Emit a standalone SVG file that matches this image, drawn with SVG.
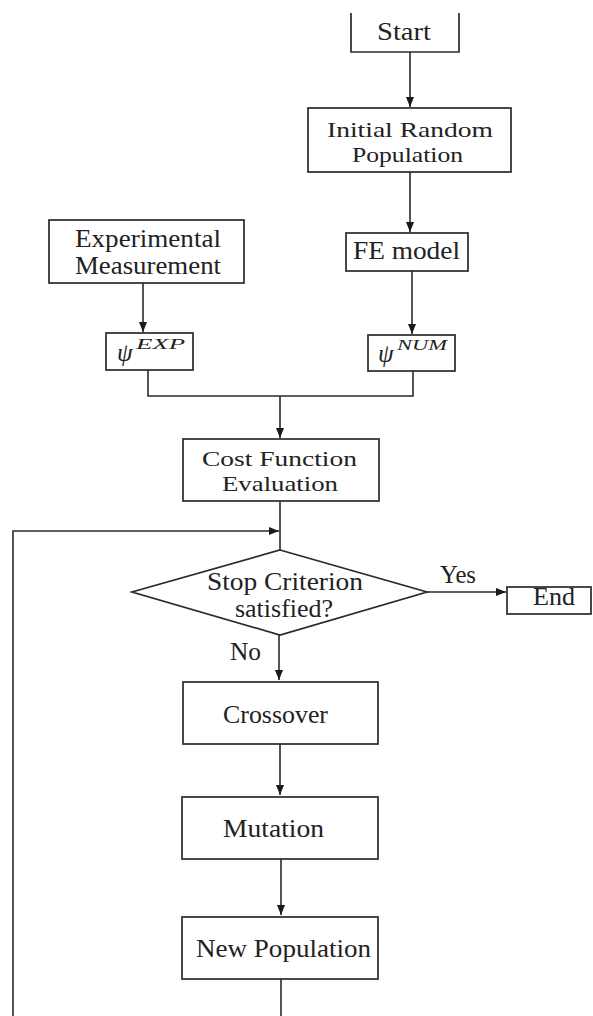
<svg xmlns="http://www.w3.org/2000/svg" width="593" height="1016" viewBox="0 0 593 1016">
<defs>
<style>
.box{fill:#fff;stroke:#2a2a2a;stroke-width:1.7}
.ln{fill:none;stroke:#2a2a2a;stroke-width:1.6}
.t{font-family:"Liberation Serif","Times New Roman",serif;font-size:25px;fill:#222}
.t2{font-family:"Liberation Serif","Times New Roman",serif;font-size:22px;fill:#222}
.it{font-family:"Liberation Serif","Times New Roman",serif;font-style:italic;fill:#222}
</style>
<marker id="ah" markerUnits="userSpaceOnUse" markerWidth="10" markerHeight="8" refX="10" refY="4" orient="auto">
<path d="M0,0 L10,4 L0,8 Z" fill="#1a1a1a"/>
</marker>
</defs>
<rect width="593" height="1016" fill="#fff"/>
<g id="connectors">
<path class="ln" d="M410,52 V107" marker-end="url(#ah)"/>
<path class="ln" d="M410,172 V232" marker-end="url(#ah)"/>
<path class="ln" d="M143,283 V332" marker-end="url(#ah)"/>
<path class="ln" d="M412,271 V334" marker-end="url(#ah)"/>
<path class="ln" d="M148,370 V396 H413 V371"/>
<path class="ln" d="M280,396 V438" marker-end="url(#ah)"/>
<path class="ln" d="M280,501 V550"/>
<path class="ln" d="M13,1016 V531 H279" marker-end="url(#ah)"/>
<path class="ln" d="M427,592 H506" marker-end="url(#ah)"/>
<path class="ln" d="M279,635 V680" marker-end="url(#ah)"/>
<path class="ln" d="M280,744 V795" marker-end="url(#ah)"/>
<path class="ln" d="M281,859 V915" marker-end="url(#ah)"/>
<path class="ln" d="M281,979 V1016"/>
<text class="t" x="440" y="583" textLength="36" lengthAdjust="spacingAndGlyphs">Yes</text>
<text class="t" x="230" y="660" textLength="31" lengthAdjust="spacingAndGlyphs">No</text>
</g>
<g id="start">
<path class="box" d="M351,13 V52 H459 V13"/>
<text class="t" x="377" y="40" textLength="54" lengthAdjust="spacingAndGlyphs">Start</text>
</g>
<g id="initial">
<rect class="box" x="308" y="108" width="203" height="64"/>
<text class="t2" x="327" y="137" textLength="166" lengthAdjust="spacingAndGlyphs">Initial Random</text>
<text class="t2" x="352" y="162" textLength="111" lengthAdjust="spacingAndGlyphs">Population</text>
</g>
<g id="fe">
<rect class="box" x="346" y="233" width="122" height="38"/>
<text class="t" x="353" y="259" textLength="107" lengthAdjust="spacingAndGlyphs">FE model</text>
</g>
<g id="experimental">
<rect class="box" x="49" y="220" width="195" height="63"/>
<text class="t" x="75" y="247" textLength="146" lengthAdjust="spacingAndGlyphs">Experimental</text>
<text class="t" x="75" y="274" textLength="146" lengthAdjust="spacingAndGlyphs">Measurement</text>
</g>
<g id="psiexp">
<rect class="box" x="106" y="333" width="87" height="37"/>
<text class="it" x="117" y="361" font-size="25">ψ</text>
<text class="it" x="136" y="349" font-size="15" textLength="49" lengthAdjust="spacingAndGlyphs">EXP</text>
</g>
<g id="psinum">
<rect class="box" x="368" y="335" width="87" height="36"/>
<text class="it" x="378" y="362" font-size="25">ψ</text>
<text class="it" x="397" y="350" font-size="15" textLength="50" lengthAdjust="spacingAndGlyphs">NUM</text>
</g>
<g id="cost">
<rect class="box" x="183" y="439" width="196" height="62"/>
<text class="t2" x="202" y="466" textLength="155" lengthAdjust="spacingAndGlyphs">Cost Function</text>
<text class="t2" x="222" y="491" textLength="116" lengthAdjust="spacingAndGlyphs">Evaluation</text>
</g>
<g id="stop">
<polygon class="box" points="280,550 427,592 280,635 132,592"/>
<text class="t" x="207" y="590" textLength="156" lengthAdjust="spacingAndGlyphs">Stop Criterion</text>
<text class="t" x="235" y="617" textLength="98" lengthAdjust="spacingAndGlyphs">satisfied?</text>
</g>
<g id="end">
<rect class="box" x="507" y="587" width="84" height="27"/>
<text class="t" x="533" y="605" textLength="42" lengthAdjust="spacingAndGlyphs">End</text>
</g>
<g id="crossover">
<rect class="box" x="183" y="682" width="195" height="62"/>
<text class="t" x="223" y="723" textLength="105" lengthAdjust="spacingAndGlyphs">Crossover</text>
</g>
<g id="mutation">
<rect class="box" x="182" y="797" width="196" height="62"/>
<text class="t" x="223" y="837" textLength="101" lengthAdjust="spacingAndGlyphs">Mutation</text>
</g>
<g id="newpop">
<rect class="box" x="182" y="917" width="196" height="62"/>
<text class="t" x="196" y="957" textLength="175" lengthAdjust="spacingAndGlyphs">New Population</text>
</g>
</svg>
